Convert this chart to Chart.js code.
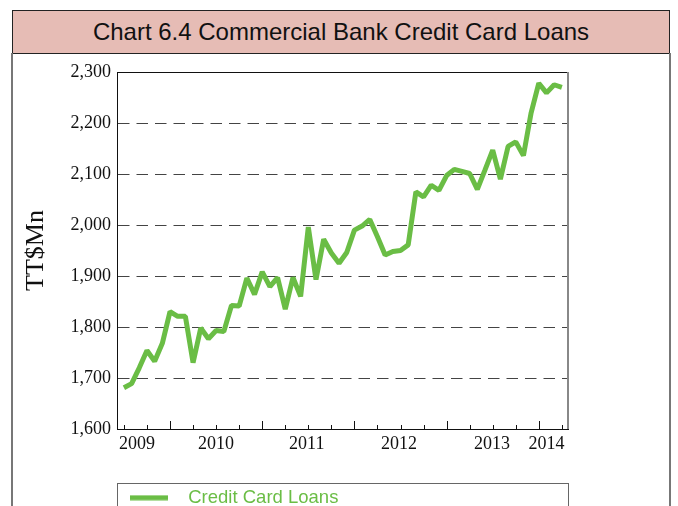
<!DOCTYPE html>
<html><head><meta charset="utf-8">
<script src="https://cdn.jsdelivr.net/npm/chart.js@4.4.1/dist/chart.umd.min.js"></script>
<style>
html,body{margin:0;padding:0;width:678px;height:506px;overflow:hidden;background:#fff;}
#title{position:absolute;left:12px;top:10px;width:656px;height:42px;background:#e6bcb5;border:1px solid #222;font:24px "Liberation Sans",Arial,sans-serif;color:#111;text-align:center;line-height:42px;}
.vline{position:absolute;top:53px;width:2px;height:460px;background:#777;}
#legendBox{position:absolute;left:117px;top:483px;width:450px;height:60px;border:1px solid #666;}
canvas{position:absolute;left:0;top:0;}
</style></head>
<body>
<div id="title">Chart 6.4 Commercial Bank Credit Card Loans</div>
<div class="vline" style="left:11px"></div>
<div class="vline" style="left:669px"></div>
<div id="legendBox"></div>
<canvas id="c" width="678" height="517"></canvas>
<script>
const months = [
 'Jul-09','Aug-09','Sep-09','Oct-09','Nov-09','Dec-09',
 'Jan-10','Feb-10','Mar-10','Apr-10','May-10','Jun-10','Jul-10','Aug-10','Sep-10','Oct-10','Nov-10','Dec-10',
 'Jan-11','Feb-11','Mar-11','Apr-11','May-11','Jun-11','Jul-11','Aug-11','Sep-11','Oct-11','Nov-11','Dec-11',
 'Jan-12','Feb-12','Mar-12','Apr-12','May-12','Jun-12','Jul-12','Aug-12','Sep-12','Oct-12','Nov-12','Dec-12',
 'Jan-13','Feb-13','Mar-13','Apr-13','May-13','Jun-13','Jul-13','Aug-13','Sep-13','Oct-13','Nov-13','Dec-13',
 'Jan-14','Feb-14','Mar-14','Apr-14'];
const loans = [
 1681,1689,1720,1754,1733,1768,
 1830,1821,1821,1730,1798,1777,1793,1791,1842,1841,1896,1864,
 1908,1879,1897,1835,1897,1860,1996,1893,1972,1945,1925,1946,
 1990,1998,2011,1977,1941,1948,1950,1961,2065,2055,2078,2068,
 2097,2109,2105,2101,2070,2108,2147,2090,2154,2163,2136,2220,
 2278,2259,2275,2270];
const yearLabels = ['2009','2010','2011','2012','2013','2014'];
const yearLabelPos = [1.7, 12, 23.8, 35.8, 47.9, 55];
const yTicks = [1600,1700,1800,1900,2000,2100,2200,2300];
const seriesName = 'Credit Card Loans';
const green = '#6abd45';

const legendImg = document.createElement('canvas');
legendImg.width = 49; legendImg.height = 6;
(function(){ const g = legendImg.getContext('2d'); g.fillStyle = green; g.fillRect(0,0.5,38,5); })();

const framePlugin = {
  id: 'frame',
  afterDraw(chart) {
    const {ctx, chartArea: a, scales: {x}} = chart;
    ctx.save();
    ctx.strokeStyle = '#111'; ctx.lineWidth = 1;
    for (let m = Math.ceil(x.min); m <= x.max; m++) {
      if (m % 3 !== 0) continue;
      const len = ((m - 6) % 12 === 0) ? 8 : 4;
      const px = Math.round(x.getPixelForValue(m)) + 0.5;
      ctx.beginPath(); ctx.moveTo(px, a.bottom); ctx.lineTo(px, a.bottom - len); ctx.stroke();
    }
    ctx.beginPath(); ctx.moveTo(a.left, Math.round(a.top) + 0.5); ctx.lineTo(a.right, Math.round(a.top) + 0.5); ctx.stroke();
    ctx.strokeStyle = '#888'; ctx.lineWidth = 2;
    ctx.beginPath(); ctx.moveTo(a.right, a.top); ctx.lineTo(a.right, a.bottom); ctx.stroke();
    ctx.restore();
  }
};

new Chart(document.getElementById('c'), {
  type: 'line',
  data: {
    labels: months,
    datasets: [{
      label: seriesName,
      data: loans.map((v, i) => ({x: i, y: v})),
      borderColor: green, backgroundColor: green,
      borderWidth: 5, pointRadius: 0, tension: 0, fill: false,
      borderJoinStyle: 'bevel', borderCapStyle: 'butt'
    }]
  },
  options: {
    responsive: false, animation: false,
    layout: { padding: { left: 21, right: 110, top: 72, bottom: 0 } },
    plugins: {
      tooltip: { enabled: false },
      legend: {
        position: 'bottom', align: 'start', fullSize: false,
        labels: {
          usePointStyle: true, pointStyle: legendImg, pointStyleWidth: 49,
          padding: 13, color: green,
          font: { family: 'Liberation Sans', size: 18.5 }
        }
      }
    },
    scales: {
      x: {
        type: 'linear', min: -0.9, max: 57.8,
        afterFit: s => { s.height = 46.5; },
        afterBuildTicks: s => { s.ticks = yearLabelPos.map(v => ({value: v})); },
        ticks: {
          autoSkip: false, maxRotation: 0, padding: 4, color: '#111',
          font: { family: 'Liberation Serif', size: 18 },
          callback: (v, i) => yearLabels[i]
        },
        grid: { display: false, drawTicks: false },
        border: { display: true, color: '#111', width: 1 }
      },
      y: {
        min: 1600, max: 2300,
        afterFit: s => { s.width = 96; },
        afterBuildTicks: s => { s.ticks = yTicks.map(v => ({value: v})); },
        ticks: {
          padding: 6, color: '#111',
          font: { family: 'Liberation Serif', size: 18 },
          callback: v => v.toLocaleString('en-US')
        },
        grid: {
          drawTicks: false, lineWidth: 1,
          color: c => (c.tick && (c.tick.value === 1600 || c.tick.value === 2300)) ? 'rgba(0,0,0,0)' : '#444'
        },
        border: { display: true, color: '#111', width: 1, dash: [11.5, 7] },
        title: { display: true, text: 'TT$Mn', color: '#111', padding: 0,
          font: { family: 'Liberation Serif', size: 26 } }
      }
    }
  },
  plugins: [framePlugin]
});
</script>
</body></html>
